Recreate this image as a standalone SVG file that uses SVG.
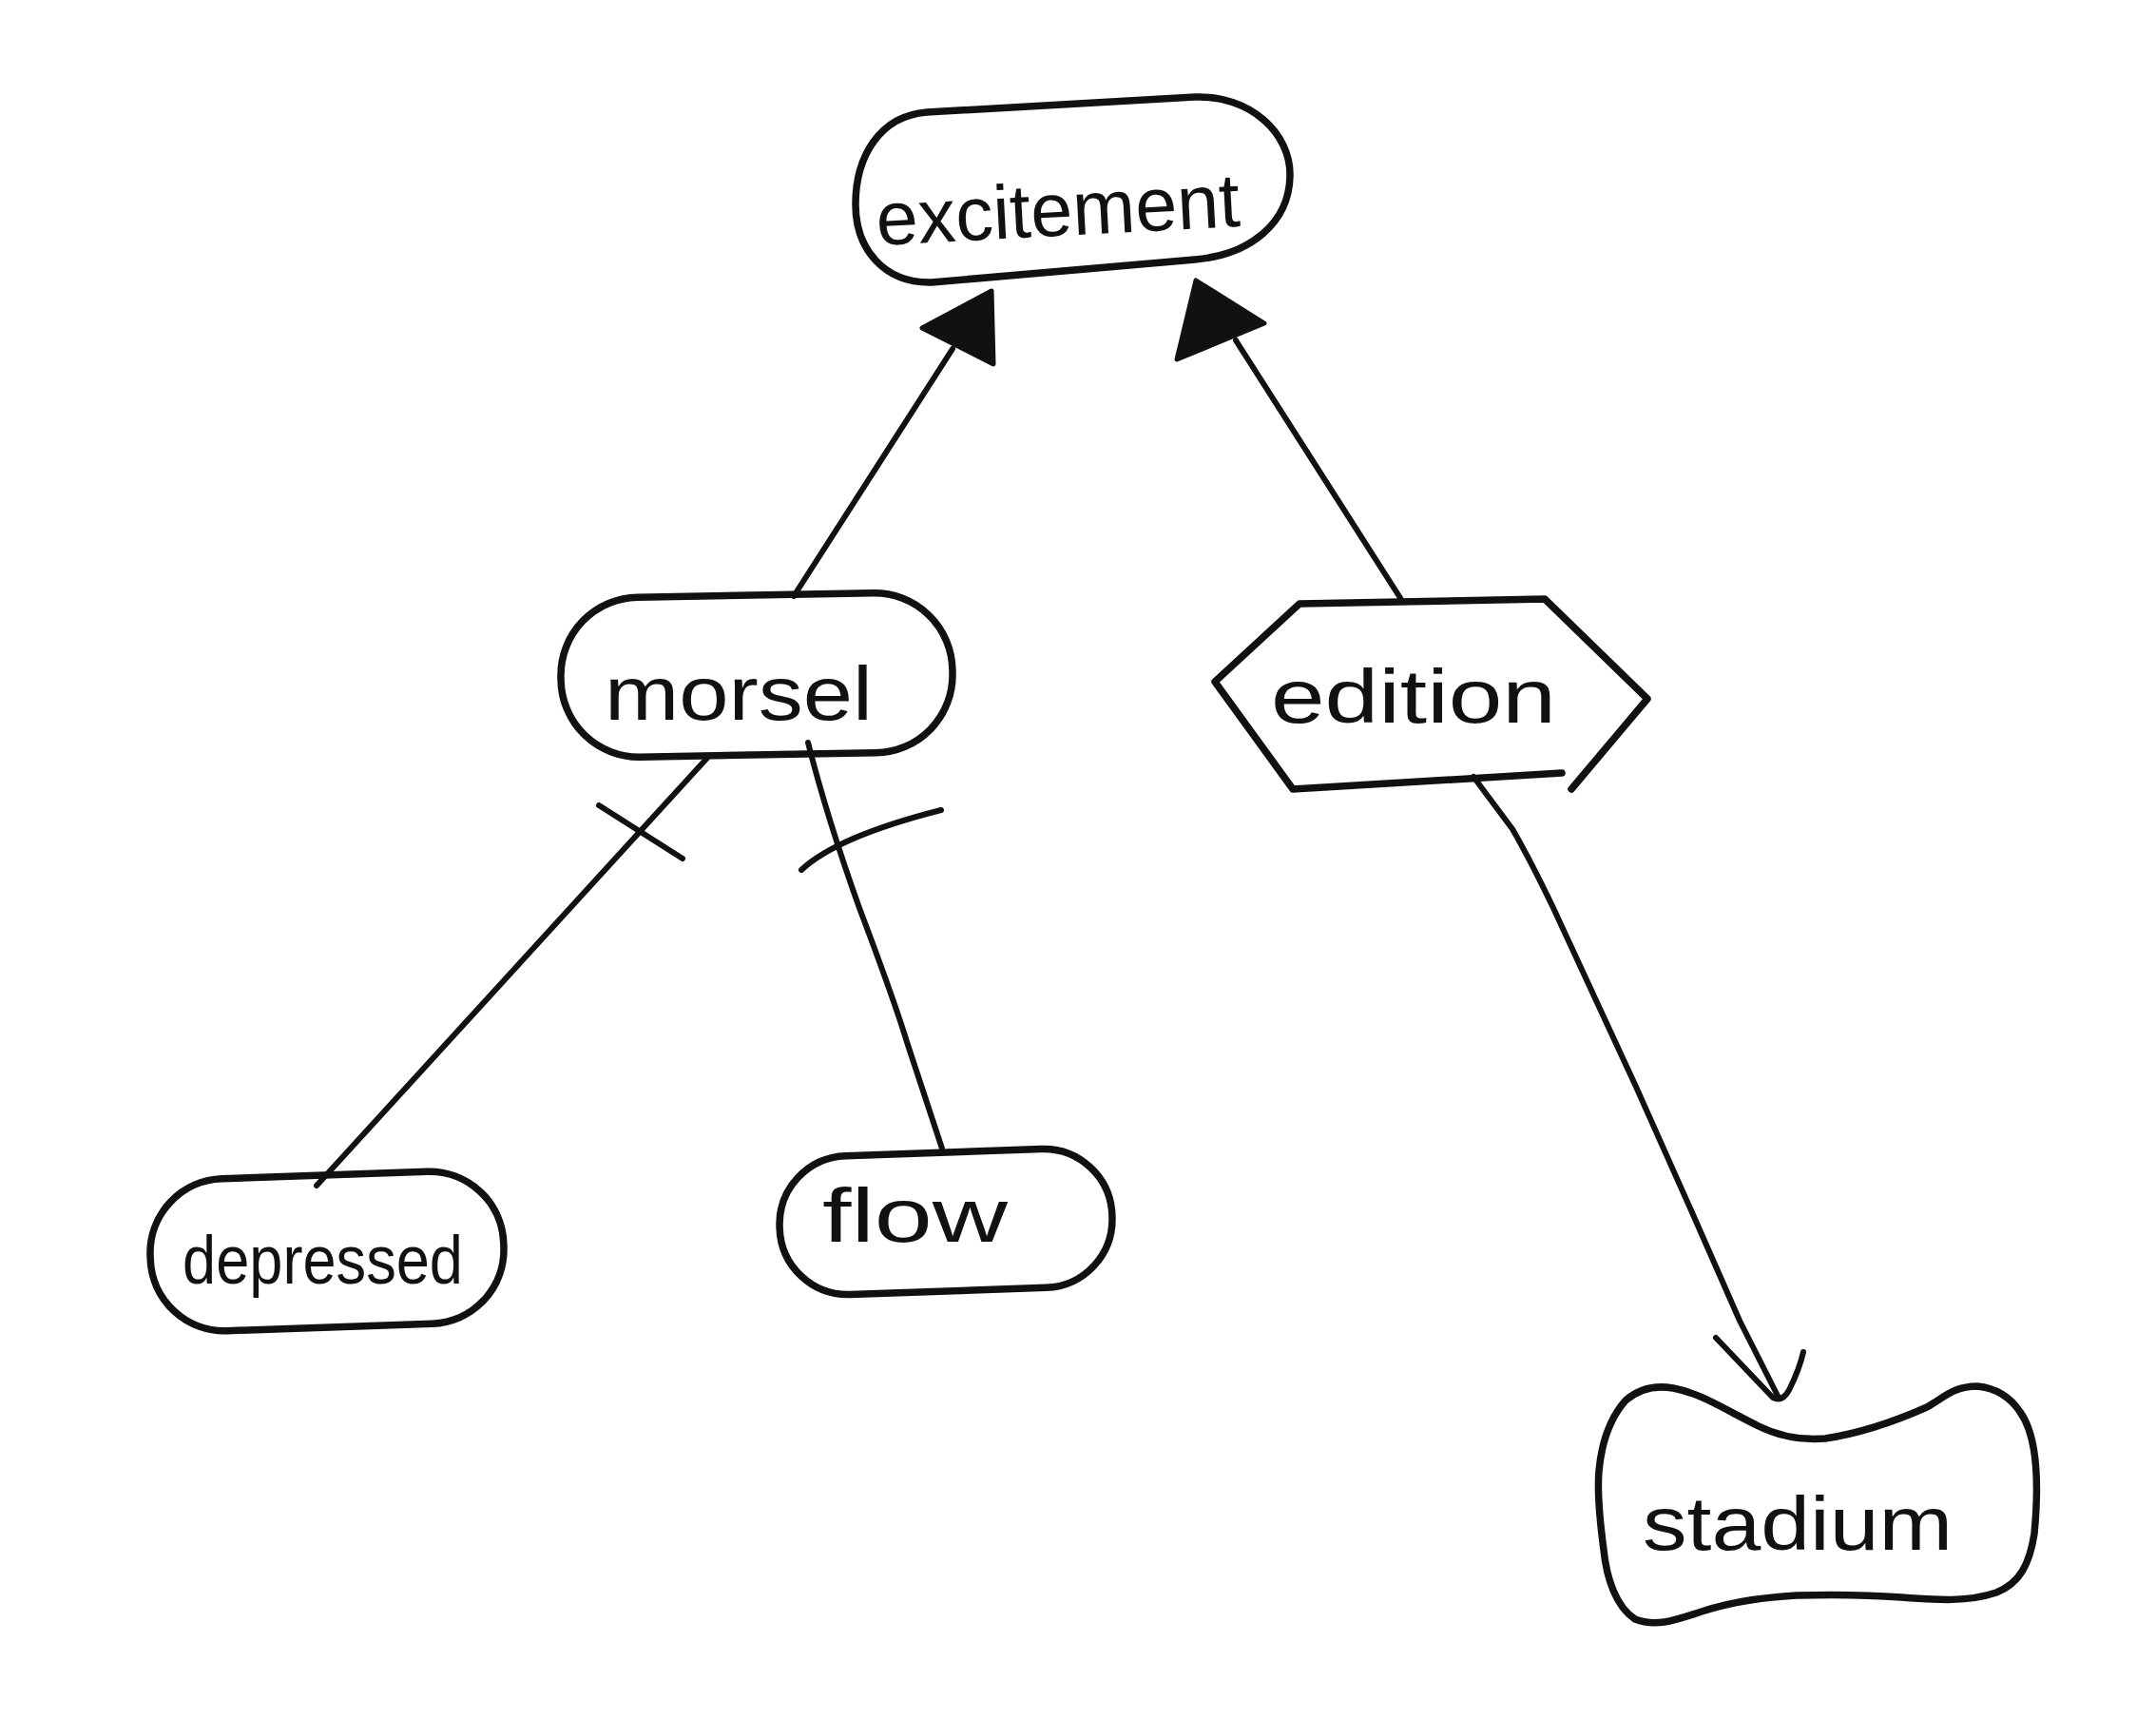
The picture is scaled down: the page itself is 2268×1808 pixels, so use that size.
<svg xmlns="http://www.w3.org/2000/svg" width="2268" height="1808" viewBox="0 0 2268 1808">
<style>
.n{fill:none;stroke:#111;stroke-width:7.5;stroke-linecap:round;stroke-linejoin:round}
.e{fill:none;stroke:#111;stroke-width:6;stroke-linecap:round;stroke-linejoin:round}
.h{fill:#111;stroke:#111;stroke-width:5;stroke-linejoin:round}
.t{font-family:"Liberation Sans","DejaVu Sans",sans-serif;fill:#111;font-size:80px}
</style>
<rect width="2268" height="1808" fill="#fff"/>
<g id="connectors">
<g id="e-morsel-excitement">
<path class="e" d="M835,627 L1002,367"/>
<polygon class="h" points="970,345 1043,306 1045,383"/>
</g>
<g id="e-edition-excitement">
<path class="e" d="M1475,632 L1300,358"/>
<polygon class="h" points="1258,295 1238,378 1330,340"/>
</g>
<g id="e-morsel-depressed">
<path class="e" d="M745,796 L333,1247"/>
<path class="e" d="M630,847 L718,903"/>
</g>
<g id="e-morsel-flow">
<path class="e" d="M850,781 Q870,860 904,955 Q940,1050 955,1099 Q975,1160 991,1208"/>
<path class="e" d="M843,915 Q880,880 990,852"/>
</g>
<g id="e-edition-stadium">
<path class="e" d="M1550,817 L1591,872 Q1610,905 1634,955 L1721,1143 L1779,1273 L1830,1389 L1870,1468"/>
<path class="e" d="M1805,1407 L1865,1470 Q1875,1475 1882,1462 Q1893,1440 1897,1422"/>
</g>
</g>
<g id="excitement">
<path class="n" d="M980,297 C930,298 900,262 900,215 C900,165 925,122 975,118 L1257,102 C1315,100 1358,140 1357,185 C1356,235 1315,268 1257,273 Z"/>
<text class="t" x="922" y="248" textLength="383" lengthAdjust="spacingAndGlyphs" transform="rotate(-3 1113 235)">excitement</text>
</g>
<g id="morsel">
<rect class="n" x="590" y="626" width="412" height="168" rx="82" transform="rotate(-1 796 710)"/>
<text class="t" x="636" y="757" textLength="282" lengthAdjust="spacingAndGlyphs">morsel</text>
</g>
<g id="edition">
<path class="n" d="M1653,830 L1733,735 L1625,630 L1367,635 L1278,717 L1360,830 L1643,813"/>
<text class="t" x="1337" y="760" textLength="300" lengthAdjust="spacingAndGlyphs">edition</text>
</g>
<g id="depressed">
<rect class="n" x="158" y="1236" width="372" height="160" rx="78" transform="rotate(-2 344 1316)"/>
<text class="t" x="192" y="1350" textLength="295" lengthAdjust="spacingAndGlyphs" style="font-size:72px">depressed</text>
</g>
<g id="flow">
<rect class="n" x="820" y="1212" width="350" height="146" rx="72" transform="rotate(-2 995 1285)"/>
<text class="t" x="865" y="1306" textLength="195" lengthAdjust="spacingAndGlyphs">flow</text>
</g>
<g id="stadium">
<path class="n" d="M1710,1473 C1725,1460 1743,1457 1760,1460 C1790,1466 1810,1480 1850,1500 C1870,1510 1893,1515 1920,1513 C1960,1507 2000,1492 2027,1480 C2045,1470 2055,1458 2080,1458 C2100,1460 2115,1470 2125,1485 C2143,1510 2145,1560 2140,1613 C2135,1645 2125,1665 2100,1675 C2070,1685 2040,1683 2000,1680 C1960,1677 1927,1677 1890,1678 C1860,1680 1827,1683 1790,1695 C1765,1703 1743,1712 1720,1703 C1700,1690 1690,1660 1687,1630 C1683,1600 1680,1570 1682,1547 C1685,1515 1695,1490 1710,1473 Z"/>
<text class="t" x="1728" y="1630" textLength="326" lengthAdjust="spacingAndGlyphs">stadium</text>
</g>
</svg>
